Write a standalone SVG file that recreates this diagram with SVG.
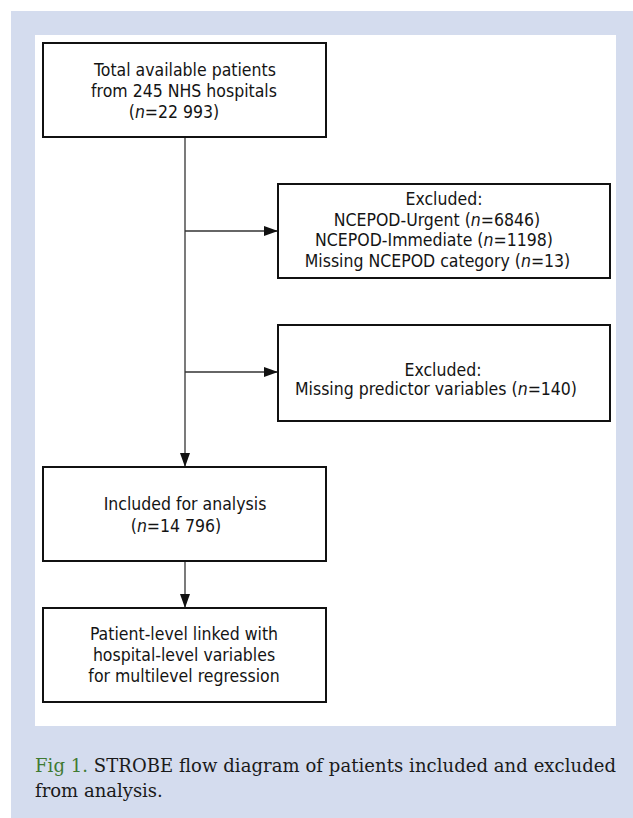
<svg xmlns="http://www.w3.org/2000/svg" width="633" height="818" viewBox="0 0 633 818">
<defs>
<style>
.bg{fill:#d4dcee}
.panel{fill:#ffffff}
.box{fill:#ffffff;stroke:#111;stroke-width:2}
.t{font-family:'DejaVu Sans Condensed','DejaVu Sans',sans-serif;font-stretch:condensed;font-size:17.5px;fill:#141414;text-anchor:middle}
.conn{stroke:#333;stroke-width:1.3;fill:none}
.cap{font-family:'DejaVu Serif','Liberation Serif',serif;font-size:18px;fill:#1a1a1a}
.green{fill:#3f7a32}
</style>
<marker id="arr" viewBox="0 0 14 10" refX="14" refY="5" markerWidth="14" markerHeight="10" markerUnits="userSpaceOnUse" orient="auto">
<path d="M0,0 L14,5 L0,10 Z" fill="#111"/>
</marker>
</defs>
<rect class="bg" x="11" y="11" width="622" height="807"/>
<rect class="panel" x="35" y="35" width="581" height="691"/>

<g id="connectors">
<line class="conn" x1="185" y1="137" x2="185" y2="467" marker-end="url(#arr)"/>
<line class="conn" x1="185" y1="231" x2="278" y2="231" marker-end="url(#arr)"/>
<line class="conn" x1="185" y1="372" x2="278" y2="372" marker-end="url(#arr)"/>
<line class="conn" x1="185" y1="561" x2="185" y2="608" marker-end="url(#arr)"/>
</g>

<g id="total">
<rect class="box" x="43" y="43" width="283" height="94"/>
<text class="t" x="185" y="75.5">Total available patients</text>
<text class="t" x="184" y="96.5">from 245 NHS hospitals</text>
<text class="t" x="174" y="117.5">(<tspan font-style="italic">n</tspan>=22 993)</text>
</g>

<g id="excluded1">
<rect class="box" x="278" y="184" width="332" height="94"/>
<text class="t" x="444" y="205">Excluded:</text>
<text class="t" x="437" y="225.5">NCEPOD-Urgent (<tspan font-style="italic">n</tspan>=6846)</text>
<text class="t" x="434" y="246">NCEPOD-Immediate (<tspan font-style="italic">n</tspan>=1198)</text>
<text class="t" x="437.5" y="266.5">Missing NCEPOD category (<tspan font-style="italic">n</tspan>=13)</text>
</g>

<g id="excluded2">
<rect class="box" x="278" y="325" width="332" height="96"/>
<text class="t" x="443" y="375.5">Excluded:</text>
<text class="t" x="436" y="394.5">Missing predictor variables (<tspan font-style="italic">n</tspan>=140)</text>
</g>

<g id="included">
<rect class="box" x="43" y="467" width="283" height="94"/>
<text class="t" x="185" y="510">Included for analysis</text>
<text class="t" x="176" y="531.5">(<tspan font-style="italic">n</tspan>=14 796)</text>
</g>

<g id="linked">
<rect class="box" x="43" y="608" width="283" height="94"/>
<text class="t" x="184" y="639.5">Patient-level linked with</text>
<text class="t" x="184" y="660.5">hospital-level variables</text>
<text class="t" x="184" y="681.5">for multilevel regression</text>
</g>

<g id="caption">
<text class="cap" x="35" y="772" textLength="581" lengthAdjust="spacing"><tspan class="green">Fig 1.</tspan> STROBE flow diagram of patients included and excluded</text>
<text class="cap" x="35" y="797">from analysis.</text>
</g>
</svg>
